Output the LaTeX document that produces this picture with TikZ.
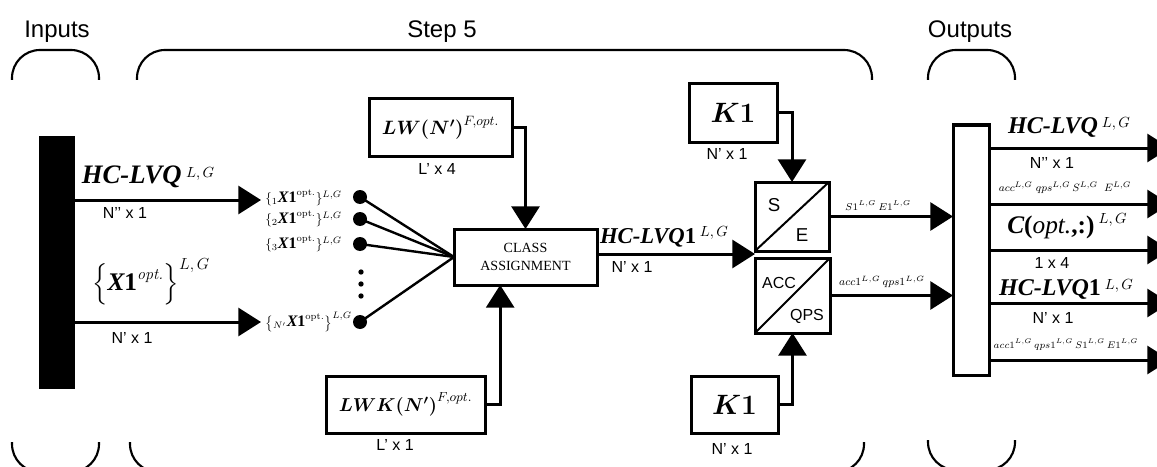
\RequirePackage{fix-cm}
\documentclass[tikz,border=0pt]{standalone}
\usepackage{amsmath}
\usepackage{bm}
\usepackage{fontspec}
\setsansfont{Liberation Sans}
\newfontfamily\timesf{Liberation Serif}
\usetikzlibrary{arrows.meta}
\newcommand\fsz[1]{\fontsize{#1}{#1}\selectfont}
\newcommand\bi[1]{{\timesf\bfseries\itshape #1}}
\newcommand\bone{{\timesf\bfseries\upshape 1}}
\newcommand\sLG[1][4.5pt]{\,\raisebox{#1}{\fsz{11}$L,G$}}
\newcommand\ex[1]{{}_{#1}\text{\fsz{12}\bi{X}\bone}}
\begin{document}
\begin{tikzpicture}[x=0.75pt,y=-0.75pt,
  arr/.style={line width=2.25pt,-{Triangle[length=17pt,width=21pt]}},
  blk/.style={draw,line width=2.25pt,fill=white,inner sep=0pt,outer sep=0pt},
  brk/.style={line width=1.6pt,rounded corners=21pt},
  dimlab/.style={font=\sffamily\fsz{12},inner sep=0pt,anchor=base},
  hdr/.style={font=\sffamily\fsz{18},inner sep=0pt,anchor=base},
  mlab/.style={inner sep=0pt,anchor=base},
  elab/.style={inner sep=0pt,anchor=west,font=\fsz{10}},
  dot/.style={circle,fill=black,inner sep=0pt,minimum size=10.5pt},
  sdot/.style={circle,fill=black,inner sep=0pt,minimum size=4pt},
  fan/.style={line width=1.8pt},
  diag/.style={line width=1.5pt},
  boxlab/.style={font=\sffamily\fsz{12},inner sep=0pt}]
\useasboundingbox (0,0) rectangle (1157,467);
\clip (0,0) rectangle (1157,467);

% headers
\node[hdr] (tin) at (57,38) {Inputs};
\node[hdr] (tstep) at (442,38) {Step 5};
\node[hdr] (tout) at (970,38) {Outputs};

% brackets
\draw[brk] (12,80) -- (12,50) -- (99,50) -- (99,80);
\draw[brk] (137,80) -- (137,50) -- (872,50) -- (872,80);
\draw[brk] (928,80) -- (928,50) -- (1015,50) -- (1015,80);
\draw[brk] (12,442) -- (12,472) -- (99,472) -- (99,442);
\draw[brk] (130,442) -- (130,472) -- (864,472) -- (864,442);
\draw[brk] (928,440) -- (928,470) -- (1015,470) -- (1015,440);

% input bar
\node[blk,fill=black,minimum width=24.75pt,minimum height=187.5pt] (bar) at (56.5,262) {};

% input labels
\node[mlab,font=\fsz{20}] (hlab) at (148,183) {\bi{HC-LVQ}\sLG};
\node[dimlab] (hdim) at (125,218) {N’’ x 1};
\node[mlab,font=\fsz{16}] (xlab) at (151,290) {$\Bigl\{\text{\fsz{19}\bi{X}\bone}^{\text{\fsz{12}\itshape opt.}}\Bigr\}^{\text{\fsz{12}$L,G$}}$};
\node[dimlab] (xdim) at (132,343) {N’ x 1};

% element labels
\node[elab] (l1) at (265,198) {$\{\ex{1}^{\mathrm{opt.}}\}^{L,G}$};
\node[elab] (l2) at (265,219) {$\{\ex{2}^{\mathrm{opt.}}\}^{L,G}$};
\node[elab] (l3) at (265,244) {$\{\ex{3}^{\mathrm{opt.}}\}^{L,G}$};
\node[elab] (ln) at (265,322) {$\bigl\{\ex{N'}^{\mathrm{opt.}}\bigr\}^{L,G}$};

\draw[arr] (bar.east |- 0,200) -- ([xshift=-3pt]l1.west |- 0,200);
\draw[arr] (bar.east |- ln.west) -- ([xshift=-3pt]ln.west);

% dots
\node[dot] (d1) at (360,197) {};
\node[dot] (d2) at (360,219) {};
\node[dot] (d3) at (360,244) {};
\node[dot] (dn) at (360,322) {};
\node[sdot] (v1) at (361,272) {};
\node[sdot] (v2) at (361,284) {};
\node[sdot] (v3) at (361,296) {};

% class assignment
\node[blk,minimum width=107.25pt,minimum height=42pt,align=center,
      font=\timesf\fontsize{10.5}{14}\selectfont] (class) at (525.5,257) {CLASS\\ASSIGNMENT};
\foreach \d in {d1,d2,d3,dn} \draw[fan] (\d.center) -- (class.west);

% LW and LWK
\node[blk,minimum width=107.25pt,minimum height=42.75pt,font=\fsz{14.5}] (lw) at (440.5,127.5)
  {$\bm{LW}\bm{(}\bm{N'}\bm{)}^{F,opt.}$};
\node[dimlab] (lwd) at (437,174) {L’ x 4};
\node[blk,minimum width=119.25pt,minimum height=42.75pt,font=\fsz{14}] (lwk) at (405.5,404.5)
  {$\bm{LWK}\bm{(}\bm{N'}\bm{)}^{F,opt.}$};
\node[dimlab] (lwkd) at (395,450) {L’ x 1};
\draw[arr] (lw.east) -| (class.north);
\draw[arr] (lwk.east) -| ([xshift=-19pt]class.south);

% K1 boxes
\node[blk,minimum width=66pt,minimum height=43.5pt,font=\fsz{21}] (k1t) at (733,113) {$\bm{K1}$};
\node[dimlab] (k1td) at (727,159) {N’ x 1};
\node[blk,minimum width=65.25pt,minimum height=42.75pt,font=\fsz{21}] (k1b) at (734.5,404.5) {$\bm{K1}$};
\node[dimlab] (k1bd) at (732,454) {N’ x 1};

% split boxes
\node[blk,minimum width=55.5pt,minimum height=51.75pt] (se) at (792,216.5) {};
\draw[diag] (se.south west) -- (se.north east);
\node[boxlab,font=\sffamily\fsz{14}] (sS) at (774,205) {S};
\node[boxlab,font=\sffamily\fsz{14}] (sE) at (802,235) {E};
\node[blk,minimum width=56.25pt,minimum height=56.25pt] (aq) at (792.5,295.5) {};
\draw[diag] (aq.south west) -- (aq.north east);
\node[boxlab] (sA) at (779,282.5) {ACC};
\node[boxlab] (sQ) at (807,316) {QPS};

% class -> split
\coordinate (jn) at (755,254);
\draw[arr] (class.east |- jn) -- (jn);
\node[mlab,font=\fsz{17}] (mlab) at (664,243) {\bi{HC-LVQ}\bone\sLG[5pt]};
\node[dimlab] (mdim) at (632,272) {N’ x 1};

\draw[arr] (k1t.east) -| (se.north);
\draw[arr] (k1b.east) -| (aq.south);

% output bar
\node[blk,minimum width=27pt,minimum height=187.5pt] (ob) at (971,250) {};
\draw[arr] (se.east) -- (se.east -| ob.west);
\draw[arr] (aq.east) -- (aq.east -| ob.west);
\node[mlab,font=\fsz{7.5}] (selab) at (878,210) {$S1^{L,G}\,E1^{L,G}$};
\node[mlab,font=\fsz{8.2}] (aqlab) at (882,285) {$acc1^{L,G}\,qps1^{L,G}$};

% outputs
\coordinate (o1) at (1170,148);
\coordinate (o2) at (1170,204);
\coordinate (o3) at (1170,250);
\coordinate (o4) at (1170,303);
\coordinate (o5) at (1170,360);
\foreach \o in {o1,o2,o3,o4,o5} \draw[arr] (ob.east |- \o) -- (\o);

\node[mlab,font=\fsz{18}] (r1) at (1069,133) {\bi{HC-LVQ}\sLG};
\node[dimlab] (r1d) at (1052,168) {N’’ x 1};
\node[mlab,font=\fsz{8}] (r2) at (1065,191) {$acc^{L,G}\; qps^{L,G}\, S^{L,G}\;\; E^{L,G}$};
\node[mlab,font=\fsz{19}] (r3) at (1067,233) {\bi{C}{\timesf\bfseries(}{\timesf\itshape opt.}{\timesf\bfseries,:)}\sLG[7pt]};
\node[dimlab] (r3d) at (1052,268) {1 x 4};
\node[mlab,font=\fsz{18}] (r4) at (1066,295) {\bi{HC-LVQ}\bone\sLG};
\node[dimlab] (r4d) at (1053,323) {N’ x 1};
\node[mlab,font=\fsz{7.2}] (r5) at (1066,348) {$acc1^{L,G}\, qps1^{L,G}\, S1^{L,G}\, E1^{L,G}$};
\end{tikzpicture}
\end{document}
